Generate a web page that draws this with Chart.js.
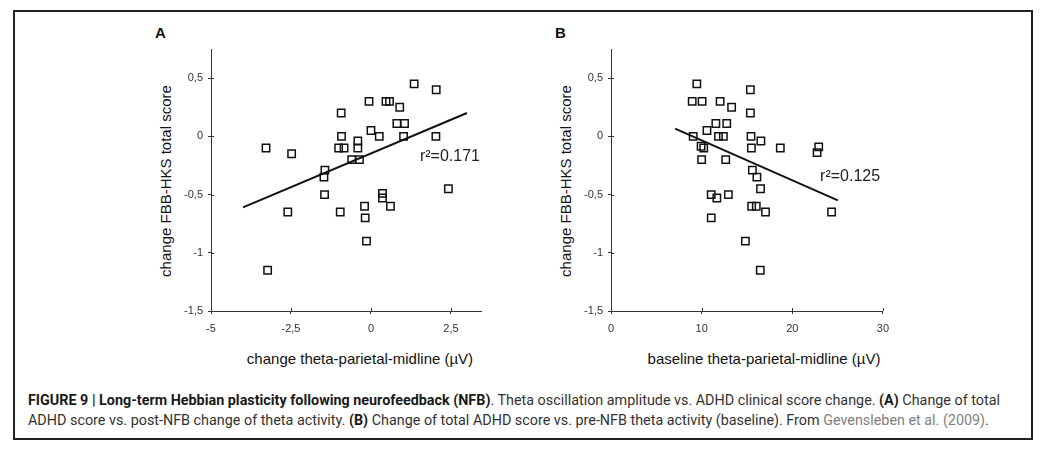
<!DOCTYPE html>
<html>
<head>
<meta charset="utf-8">
<script src="https://cdn.jsdelivr.net/npm/chart.js@4.4.1/dist/chart.umd.min.js"></script>
<style>
  body { margin: 0; background: #fff; width: 1048px; height: 455px; position: relative; overflow: hidden;
         font-family: "Liberation Sans", Arial, sans-serif; color: #111; }
  #frame { position: absolute; left: 13px; top: 10px; width: 1020px; height: 430px; border: 2px solid #222; box-sizing: border-box; }
  canvas { position: absolute; }
  .panel { position: absolute; font-weight: bold; font-size: 15px; }
  .xt, .yt { position: absolute; font-size: 15px; white-space: nowrap; }
  .yt { transform: translate(-50%, -50%) rotate(-90deg); }
  .xt { transform: translate(-50%, -50%); }
  #cap { position: absolute; left: 28px; top: 391px; font-family: Roboto, sans-serif; font-size: 14.35px;
         line-height: 20px; color: #333; white-space: nowrap; }
  #cap b { color: #1a1a1a; }
  #cap .ref { color: #808080; }
</style>
</head>
<body>
<div id="frame"></div>

<div class="panel" style="left:155px; top:24px;">A</div>
<div class="panel" style="left:555px; top:24px;">B</div>

<div class="yt" style="left:165px; top:181px;">change FBB-HKS total score</div>
<div class="yt" style="left:565px; top:181px;">change FBB-HKS total score</div>
<div class="xt" style="left:360px; top:358px;">change theta-parietal-midline (µV)</div>
<div class="xt" style="left:764px; top:358px;">baseline theta-parietal-midline (µV)</div>

<canvas id="chartA" width="351" height="360" style="left:140px; top:20px;"></canvas>
<canvas id="chartB" width="357" height="360" style="left:540px; top:20px;"></canvas>

<div id="cap"><b>FIGURE 9 | Long-term Hebbian plasticity following neurofeedback (NFB)</b>. Theta oscillation amplitude vs. ADHD clinical score change. <b>(A)</b> Change of total<br>ADHD score vs. post-NFB change of theta activity. <b>(B)</b> Change of total ADHD score vs. pre-NFB theta activity (baseline). From <span class="ref">Gevensleben et al. (2009)</span>.</div>

<script>
// panel A: change of theta vs change of score
var aX = [-3.28, -2.48, -3.23, -2.60, -1.44, -1.47, -1.45, -0.93, -0.92, -1.01, -0.84, -0.96,
          -0.60, -0.36, -0.41, -0.41, -0.06, 0.00, 0.26, -0.20, -0.18, -0.14, 0.36, 0.36,
          0.61, 0.47, 0.58, 0.90, 0.81, 1.05, 1.02, 1.35, 2.04, 2.03, 2.42];
var aY = [-0.10, -0.15, -1.15, -0.65, -0.29, -0.35, -0.50, 0.20, 0.00, -0.10, -0.10, -0.65,
          -0.20, -0.20, -0.04, -0.10, 0.30, 0.05, 0.00, -0.60, -0.70, -0.90, -0.49, -0.53,
          -0.60, 0.30, 0.30, 0.25, 0.11, 0.11, 0.00, 0.45, 0.40, 0.00, -0.45];
var trendAX = [-4, 3];
var trendAY = [-0.61, 0.20];

// panel B: baseline theta vs change of score
var bX = [9.47, 8.96, 10.05, 12.04, 13.31, 15.38, 15.38, 11.57, 12.77, 10.59, 9.07, 11.86,
          12.40, 15.45, 16.54, 9.94, 10.23, 15.49, 18.68, 22.92, 22.74, 10.00, 12.66, 15.60,
          16.10, 16.50, 11.06, 11.68, 12.95, 15.52, 16.03, 17.05, 11.06, 24.34, 14.83, 16.47];
var bY = [0.45, 0.30, 0.30, 0.30, 0.25, 0.40, 0.20, 0.11, 0.11, 0.05, 0.00, 0.00,
          0.00, 0.00, -0.04, -0.085, -0.10, -0.10, -0.10, -0.09, -0.14, -0.20, -0.20, -0.29,
          -0.35, -0.45, -0.50, -0.53, -0.50, -0.60, -0.60, -0.65, -0.70, -0.65, -0.90, -1.15];
var trendBX = [7.07, 25.03];
var trendBY = [0.066, -0.55];

// tick labels
var yTicks = [0.5, 0, -0.5, -1, -1.5];
var aXTicks = [-5, -2.5, 0, 2.5];
var bXTicks = [0, 10, 20, 30];

function toPoints(xs, ys) {
    return xs.map(function (x, i) { return { x: x, y: ys[i] }; });
}

function comma(v) {
    return String(v).replace('.', ',');
}

// short tick marks on the inner side of both axes
var innerTicks = {
    id: 'innerTicks',
    afterDraw: function (chart) {
        var ctx = chart.ctx;
        var xs = chart.scales.x, ys = chart.scales.y;
        ctx.save();
        ctx.strokeStyle = '#333';
        ctx.lineWidth = 1;
        ctx.beginPath();
        xs.ticks.forEach(function (t) {
            var px = Math.round(xs.getPixelForValue(t.value)) + 0.5;
            ctx.moveTo(px, xs.top);
            ctx.lineTo(px, xs.top - 3);
        });
        ys.ticks.forEach(function (t) {
            var py = Math.round(ys.getPixelForValue(t.value)) + 0.5;
            ctx.moveTo(ys.right, py);
            ctx.lineTo(ys.right + 3, py);
        });
        ctx.stroke();
        ctx.restore();
    }
};

// r² note placed in data units
var rLabel = {
    id: 'rLabel',
    afterDatasetsDraw: function (chart, args, opts) {
        var ctx = chart.ctx;
        ctx.save();
        ctx.font = '16px "Liberation Sans", Arial, sans-serif';
        ctx.fillStyle = '#222';
        ctx.textAlign = 'left';
        ctx.textBaseline = 'middle';
        ctx.fillText(opts.text, chart.scales.x.getPixelForValue(opts.x), chart.scales.y.getPixelForValue(opts.y));
        ctx.restore();
    }
};

function makeChart(id, xs, ys, tx, ty, xMin, xMax, xTicks, yAxisWidth, note) {
    var ctx = document.getElementById(id).getContext('2d');
    return new Chart(ctx, {
        type: 'scatter',
        data: {
            datasets: [{
                data: toPoints(xs, ys),
                pointStyle: 'rect',
                pointRadius: 5.2,
                pointHoverRadius: 5.2,
                borderColor: '#111',
                borderWidth: 1.5,
                backgroundColor: 'rgba(0,0,0,0)'
            }, {
                data: toPoints(tx, ty),
                showLine: true,
                borderColor: '#111',
                borderWidth: 2,
                pointRadius: 0,
                fill: false
            }]
        },
        options: {
            responsive: false,
            animation: false,
            devicePixelRatio: 1,
            layout: { padding: { top: 29, right: 10, left: 0, bottom: 0 } },
            plugins: {
                legend: { display: false },
                tooltip: { enabled: false },
                rLabel: note
            },
            scales: {
                x: {
                    type: 'linear',
                    min: xMin,
                    max: xMax,
                    afterBuildTicks: function (s) { s.ticks = xTicks.map(function (v) { return { value: v }; }); },
                    afterFit: function (s) { s.height = 69; },
                    border: { color: '#333', width: 1 },
                    grid: { drawOnChartArea: false, color: '#333', tickLength: 3 },
                    ticks: {
                        padding: 8,
                        color: '#333',
                        font: { family: '"Liberation Sans", Arial, sans-serif', size: 11 },
                        callback: function (v) { return comma(v); }
                    }
                },
                y: {
                    min: -1.5,
                    max: 0.75,
                    afterBuildTicks: function (s) { s.ticks = yTicks.map(function (v) { return { value: v }; }); },
                    afterFit: function (s) { s.width = yAxisWidth; },
                    border: { color: '#333', width: 1 },
                    grid: { drawOnChartArea: false, color: '#333', tickLength: 3 },
                    ticks: {
                        padding: 5,
                        color: '#333',
                        font: { family: '"Liberation Sans", Arial, sans-serif', size: 11 },
                        callback: function (v) { return comma(v); }
                    }
                }
            }
        },
        plugins: [innerTicks, rLabel]
    });
}

makeChart('chartA', aX, aY, trendAX, trendAY, -5, 3.44, aXTicks, 71,
    { text: 'r²=0.171', x: 1.53, y: -0.17 });
makeChart('chartB', bX, bY, trendBX, trendBY, 0, 30, bXTicks, 71,
    { text: 'r²=0.125', x: 23.07, y: -0.35 });
</script>
</body>
</html>
